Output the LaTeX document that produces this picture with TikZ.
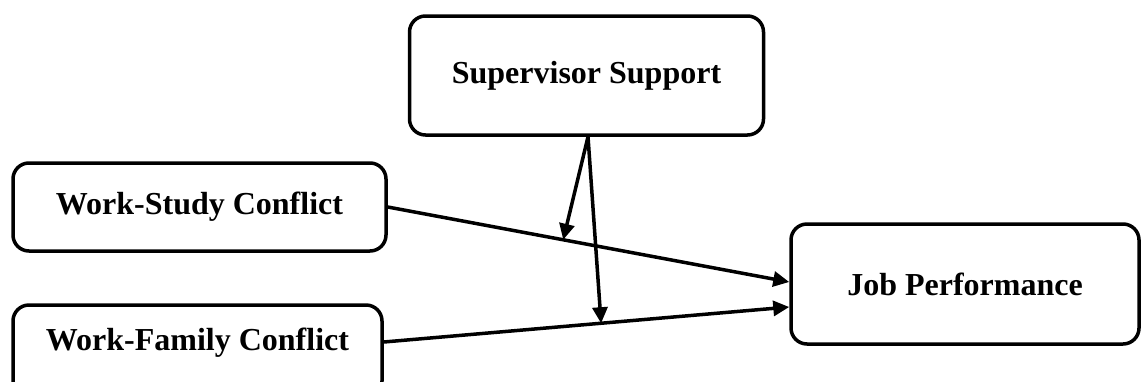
\documentclass[tikz,border=0pt]{standalone}
\usepackage{fontspec}
\setmainfont{Liberation Serif}
\usetikzlibrary{arrows.meta,calc}
\begin{document}
\begin{tikzpicture}[x=1pt,y=-1pt,
  box/.style={draw=black,line width=3.5pt,rounded corners=16pt,fill=white,inner sep=0pt,
    font=\fontsize{32}{38}\selectfont\bfseries},
  lbl/.style={inner sep=0pt,font=\fontsize{32}{38}\selectfont\bfseries},
  conn/.style={line width=3.5pt,-{Triangle[length=16pt,width=15pt]}}]
\useasboundingbox (0,0) rectangle (1142,381);
\node[box,minimum width=354pt,minimum height=119pt] (sup) at (586.5,75.5) {Supervisor Support};
\node[box,minimum width=373pt,minimum height=88pt] (ws) at (199.5,207) {Work-Study Conflict};
\node[box,minimum width=369pt,minimum height=92pt] (wf) at (197.5,351) {};
\node[lbl] (wft) at (197.5,343) {Work-Family Conflict};
\node[box,minimum width=348pt,minimum height=120pt] (jp) at (965,284) {Job Performance};
\coordinate (jpa) at ($(jp.west)+(0,-2)$);
\coordinate (jpb) at ($(jp.west)+(0,23)$);
\coordinate (wfo) at ($(wf.east)+(0,-9)$);
\draw[conn] (ws.east) -- coordinate[pos=0.437] (m1) (jpa);
\draw[conn] (wfo) -- coordinate[pos=0.536] (m2) (jpb);
\coordinate (so) at ($(sup.south)+(1.5,0)$);
\draw[conn] (so) -- (m1);
\draw[conn] (so) -- (m2);
\end{tikzpicture}
\end{document}
